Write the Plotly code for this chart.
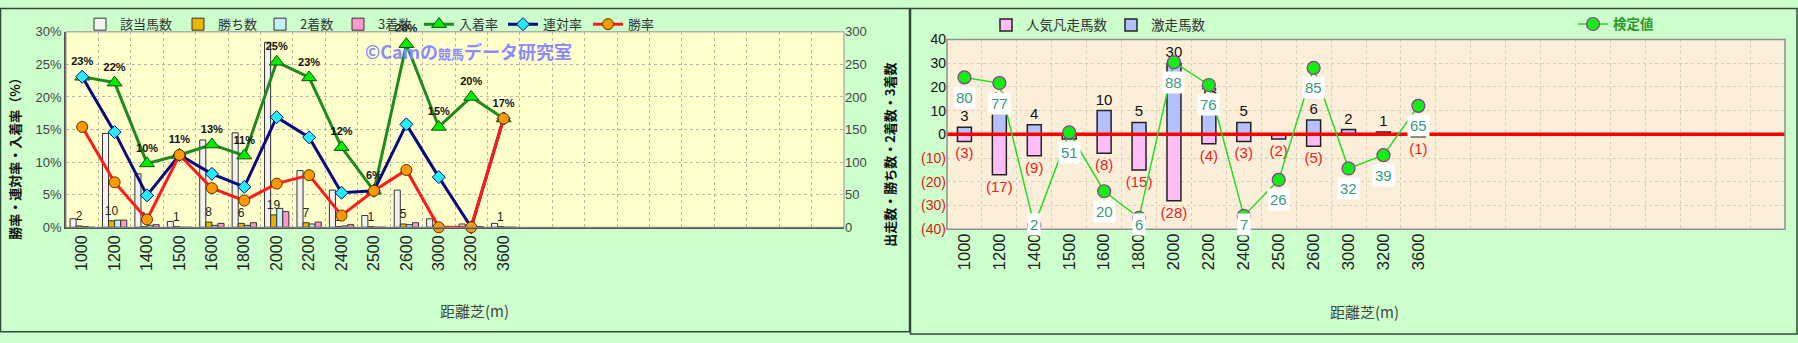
import plotly.graph_objects as go

W, H = 1798, 343

# ---------------- data ----------------
categories = ['1000', '1200', '1400', '1500', '1600', '1800', '2000',
              '2200', '2400', '2500', '2600', '3000', '3200', '3600']
n_slots = 24

runners = [13, 144, 82, 9, 134, 145, 284, 87, 57, 18, 57, 13, 5, 6]
wins = [2, 10, 1, 1, 8, 6, 19, 7, 1, 1, 5, 0, 0, 1]
seconds = [1, 11, 3, 0, 3, 3, 29, 5, 2, 0, 4, 1, 0, 0]
thirds = [0, 11, 4, 0, 6, 7, 24, 8, 4, 0, 7, 1, 1, 0]

win_rate = [15.4, 6.9, 1.2, 11.1, 6.0, 4.1, 6.7, 8.0, 1.8, 5.6, 8.8, 0.0, 0.0, 16.7]
rentai_rate = [23.1, 14.6, 4.9, 11.1, 8.2, 6.2, 16.9, 13.8, 5.3, 5.6, 15.8, 7.7, 0.0, 16.7]
place_rate = [23.1, 22.2, 9.8, 11.1, 12.7, 11.0, 25.4, 23.0, 12.3, 5.6, 28.1, 15.4, 20.0, 16.7]
place_labels = ['23%', '22%', '10%', '11%', '13%', '11%', '25%', '23%', '12%', '6%',
                '28%', '15%', '20%', '17%']

gekisou = [3, 11, 4, 0, 10, 5, 30, 13, 5, 0, 6, 2, 1, 0]
bonsou = [3, 17, 9, 2, 8, 15, 28, 4, 3, 2, 5, 0, 0, 1]
kentei = [80, 77, 2, 51, 20, 6, 88, 76, 7, 26, 85, 32, 39, 65]

right_ticks = [-40, -30, -20, -10, 0, 10, 20, 30, 40]

# ---------------- layout helpers ----------------
def fx(p):
    return p / W


def fy(p):
    return 1 - p / H


LX0, LX1, LY0, LY1 = 66, 844, 25, 230
RX0, RX1, RY0, RY1 = 947, 1785, 33, 232

FONT = "Liberation Sans, Noto Sans CJK JP, sans-serif"
NARROW = "Liberation Sans Narrow, Liberation Sans, sans-serif"
JFONT = "Noto Sans CJK JP, sans-serif"

idx = list(range(len(categories)))

# legend placement (pixel x of legend box left edge, pixel y of centre)
legend_pos = {
    'legend': (80, 17), 'legend2': (178, 17), 'legend3': (260, 17), 'legend4': (338, 17),
    'legend5': (419, 17), 'legend6': (503, 17), 'legend7': (588, 17),
    'legend8': (986, 18), 'legend9': (1111, 18), 'legend10': (1573, 17),
}

fig = go.Figure()

# ---------------- left chart bars (y, right side) ----------------
bw = 0.1875
bar_specs = [
    ('該当馬数', runners, '#f2f2f2', -0.375, 'legend'),
    ('勝ち数', wins, '#e8b400', -0.1875, 'legend2'),
    ('2着数', seconds, '#c4f0fa', 0.0, 'legend3'),
    ('3着数', thirds, '#ff99cc', 0.1875, 'legend4'),
]
for name, vals, col, off, lg in bar_specs:
    kw = {}
    if name == '勝ち数':
        kw = dict(text=[str(v) if v else '' for v in vals], textposition='outside',
                  textfont=dict(size=12, color='#222', family=FONT),
                  constraintext='none', cliponaxis=False)
    fig.add_trace(go.Bar(
        x=idx, y=vals, name=name, width=bw, offset=off,
        marker=dict(color=col, line=dict(color='#333333', width=1)),
        xaxis='x', yaxis='y', legend=lg, **kw))

# ---------------- left chart lines (y2, left side) ----------------
fig.add_trace(go.Scatter(
    x=idx, y=place_rate, name='入着率', mode='lines+markers+text',
    text=place_labels, textposition='top center',
    textfont=dict(size=11, color='#111', family=NARROW, weight='bold'),
    line=dict(color='#1f8a1f', width=3),
    marker=dict(symbol='triangle-up', size=13, color='#00ee00',
                line=dict(color='#105010', width=1)),
    xaxis='x', yaxis='y2', legend='legend5', cliponaxis=False))
fig.add_trace(go.Scatter(
    x=idx, y=rentai_rate, name='連対率', mode='lines+markers',
    line=dict(color='#0a0a80', width=3),
    marker=dict(symbol='diamond', size=10, color='#22eeff',
                line=dict(color='#0a0a80', width=1)),
    xaxis='x', yaxis='y2', legend='legend6', cliponaxis=False))
fig.add_trace(go.Scatter(
    x=idx, y=win_rate, name='勝率', mode='lines+markers',
    line=dict(color='#ff1a1a', width=3),
    marker=dict(symbol='circle', size=11, color='#ff9900',
                line=dict(color='#553300', width=1)),
    xaxis='x', yaxis='y2', legend='legend7', cliponaxis=False))

# ---------------- right chart ----------------
fig.add_trace(go.Bar(
    x=idx, y=[-v for v in bonsou], name='人気凡走馬数', width=0.4, offset=-0.2,
    marker=dict(color='#ffbdf5', line=dict(color='#222', width=1.5)),
    text=['(%d)' % v if v else '' for v in bonsou], textposition='outside',
    textfont=dict(size=15, color='#ee2222', family=FONT), constraintext='none',
    cliponaxis=False, xaxis='x2', yaxis='y3', legend='legend8'))
fig.add_trace(go.Bar(
    x=idx, y=gekisou, name='激走馬数', width=0.4, offset=-0.2,
    marker=dict(color='#b4c0ff', line=dict(color='#222', width=1.5)),
    text=[str(v) if v else '' for v in gekisou], textposition='outside',
    textfont=dict(size=15, color='#111', family=FONT), constraintext='none',
    cliponaxis=False, xaxis='x2', yaxis='y3', legend='legend9'))
fig.add_trace(go.Scatter(
    x=[-0.5, n_slots - 0.5], y=[0, 0], mode='lines', showlegend=False,
    line=dict(color='#ff0000', width=3.5), xaxis='x2', yaxis='y3', hoverinfo='skip'))
fig.add_trace(go.Scatter(
    x=idx, y=kentei, name='検定値', mode='lines+markers',
    line=dict(color='#22dd22', width=1.5),
    marker=dict(symbol='circle', size=13, color='#11ee11',
                line=dict(color='#993399', width=1.2)),
    xaxis='x2', yaxis='y4', legend='legend10', cliponaxis=False))

# ---------------- annotations ----------------
ann = []
ph = RY1 - RY0
for i, v in enumerate(kentei):
    mpx = RY0 + (100 - v) / 100 * ph
    shift = -min(20, 227 - mpx)
    ann.append(dict(x=i, y=v, xref='x2', yref='y4', text=str(v), showarrow=False,
                    xanchor='center', yanchor='middle',
                    yshift=shift, bgcolor='#ffffff', borderpad=2,
                    font=dict(size=15, color='#3a9a78', family=FONT)))

ann += [
    dict(x=fx(15), y=fy(155), xref='paper', yref='paper', text='勝率・連対率・入着率（%）',
         xanchor='center', yanchor='middle',
         textangle=-90, showarrow=False, font=dict(size=13, color='#111', family=JFONT, weight='bold')),
    dict(x=fx(890), y=fy(154), xref='paper', yref='paper', text='出走数・勝ち数・2着数・3着数',
         xanchor='center', yanchor='middle',
         textangle=-90, showarrow=False, font=dict(size=13, color='#111', family=JFONT, weight='bold')),
    dict(x=fx(474), y=fy(317), xref='paper', yref='paper', text='距離芝(m)',
         xanchor='center', yanchor='middle',
         showarrow=False, font=dict(size=15, color='#444', family=JFONT)),
    dict(x=fx(1364), y=fy(318), xref='paper', yref='paper', text='距離芝(m)',
         xanchor='center', yanchor='middle',
         showarrow=False, font=dict(size=15, color='#444', family=JFONT)),
    dict(x=fx(363), y=fy(45), xref='paper', yref='paper', xanchor='left', yanchor='middle',
         text='©Camの<span style="font-size:13px">競馬</span>データ研究室',
         showarrow=False, font=dict(size=18, color='#8c8cff', family=JFONT, weight='bold')),
]

# ---------------- shapes ----------------
shapes = [
    dict(type='rect', xref='paper', yref='paper', x0=fx(LX0), x1=fx(LX1), y0=fy(LY1), y1=fy(LY0),
         fillcolor='#ffffcc', line=dict(width=0), layer='below'),
    dict(type='rect', xref='paper', yref='paper', x0=fx(RX0), x1=fx(RX1), y0=fy(RY1), y1=fy(RY0),
         fillcolor='#fbefd9', line=dict(width=0), layer='below'),
    dict(type='rect', xref='paper', yref='paper', x0=fx(LX0), x1=fx(LX1), y0=fy(LY1), y1=fy(LY0),
         line=dict(color='#909090', width=1)),
    dict(type='rect', xref='paper', yref='paper', x0=fx(RX0), x1=fx(RX1), y0=fy(RY1), y1=fy(RY0),
         line=dict(color='#909090', width=1.5)),
    dict(type='rect', xref='paper', yref='paper', x0=fx(0.5), x1=fx(909.5), y0=fy(339.5), y1=fy(0.5),
         line=dict(color='#2f4a3a', width=1.5)),
    dict(type='rect', xref='paper', yref='paper', x0=fx(910.5), x1=fx(1797), y0=fy(342), y1=fy(0.5),
         line=dict(color='#2f4a3a', width=1.5)),
]

grid_l = dict(showgrid=True, gridcolor='#b9b9a4', griddash='dot', gridwidth=1)
grid_r = dict(showgrid=True, gridcolor='#d6cdbb', griddash='dot', gridwidth=1)

tick_font = dict(size=13, color='#444', family=NARROW)

legends = {}
for key, (lx, ly) in legend_pos.items():
    right = key in ('legend8', 'legend9', 'legend10')
    legends[key] = dict(
        orientation='h', x=fx(lx), y=fy(ly), xanchor='left', yanchor='middle',
        font=dict(size=13.5 if right else 13,
                  color='#2a9a2a' if key == 'legend10' else '#333',
                  family=JFONT, weight='bold' if key == 'legend10' else 'normal'),
        bgcolor='rgba(0,0,0,0)', borderwidth=0)

fig.update_layout(
    width=W, height=H, margin=dict(l=0, r=0, t=0, b=0),
    paper_bgcolor='#ccffcc', plot_bgcolor='rgba(0,0,0,0)',
    barmode='overlay',
    xaxis=dict(domain=[fx(LX0), fx(LX1)], range=[-0.5, n_slots - 0.5], anchor='y',
               tickmode='array', tickvals=idx, ticktext=categories, tickangle=-90,
               tickfont=dict(size=16, color='#222', family=NARROW), showgrid=False,
               showline=True, linecolor='#555', linewidth=1.5, zeroline=False, ticks='',
               minor=dict(tick0=-0.5, dtick=1, **grid_l)),
    yaxis=dict(domain=[fy(LY1), fy(LY0)], range=[0, 300], side='right', anchor='x',
               dtick=50, tickfont=tick_font, zeroline=False, **grid_l),
    yaxis2=dict(overlaying='y', side='left', range=[0, 30], dtick=5, ticksuffix='%',
                tickfont=tick_font, showgrid=False, zeroline=False,
                showline=True, linecolor='#555', linewidth=1.5),
    xaxis2=dict(domain=[fx(RX0), fx(RX1)], range=[-0.5, n_slots - 0.5], anchor='y3',
                tickmode='array', tickvals=idx, ticktext=categories, tickangle=-90,
                tickfont=dict(size=16.5, color='#222', family=NARROW), showgrid=False,
                showline=False, zeroline=False, ticks='',
                minor=dict(tick0=-0.5, dtick=1, **grid_r)),
    yaxis3=dict(domain=[fy(RY1), fy(RY0)], range=[-40, 40], anchor='x2',
                tickmode='array', tickvals=right_ticks,
                ticktext=[('<span style="color:#ee1111">(%d)</span>' % -t) if t < 0 else str(t)
                          for t in right_ticks],
                tickfont=dict(size=14, color='#111', family=FONT), zeroline=False, **grid_r),
    yaxis4=dict(overlaying='y3', range=[0, 100], visible=False),
    annotations=ann, shapes=shapes,
    **legends,
)

fig.write_html('out.html')
